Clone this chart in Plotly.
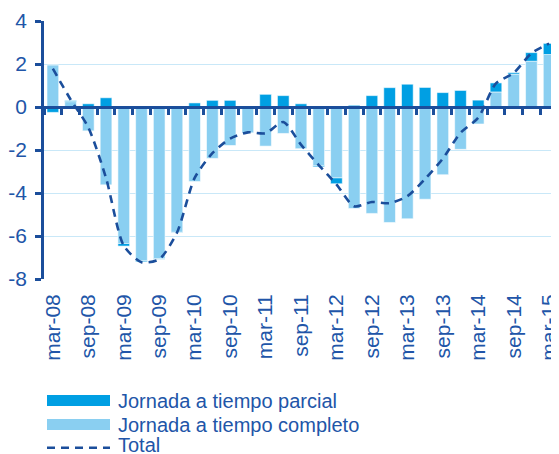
import plotly.graph_objects as go

quarters = ["mar-08", "jun-08", "sep-08", "dic-08",
            "mar-09", "jun-09", "sep-09", "dic-09",
            "mar-10", "jun-10", "sep-10", "dic-10",
            "mar-11", "jun-11", "sep-11", "dic-11",
            "mar-12", "jun-12", "sep-12", "dic-12",
            "mar-13", "jun-13", "sep-13", "dic-13",
            "mar-14", "jun-14", "sep-14", "dic-14",
            "mar-15"]

completo = [1.95, 0.25, -1.11, -3.62, -6.35, -7.15, -7.05, -5.83,
            -3.47, -2.39, -1.79, -1.20, -1.82, -1.23, -1.94, -2.72,
            -3.30, -4.72, -4.95, -5.37, -5.20, -4.29, -3.15, -1.97,
            -0.79, 0.70, 1.53, 2.13, 2.44]

parcial = [-0.25, 0.05, 0.15, 0.43, -0.12, -0.05, -0.03, -0.02,
           0.19, 0.31, 0.31, 0.02, 0.59, 0.53, 0.15, -0.06,
           -0.27, 0.08, 0.53, 0.90, 1.06, 0.91, 0.67, 0.77,
           0.32, 0.42, 0.07, 0.40, 0.52]

total = [1.78, 0.35, -0.95, -3.30, -6.45, -7.22, -7.08, -5.85,
         -3.30, -2.15, -1.47, -1.18, -1.22, -0.70, -1.75, -2.70,
         -3.60, -4.62, -4.42, -4.47, -4.15, -3.35, -2.40, -1.20,
         -0.50, 1.10, 1.58, 2.50, 2.95]

tick_labels = [q for q in quarters if q.startswith("mar") or q.startswith("sep")]
y_ticks = [4, 2, 0, -2, -4, -6, -8]
y_tick_text = ["4", "2", "0", "-2", "-4", "-6", "-8"]

legend_names = ["Jornada a tiempo parcial", "Jornada a tiempo completo", "Total"]

LIGHT = "#8ACFF1"
DARK = "#009FE3"
NAVY = "#1B4E9B"
TEXT = "#2155A8"
GRID = "#C9E8F8"
FONT = "Liberation Sans, Arial, sans-serif"

# the page body has an 8px margin, so the figure is drawn 8px smaller
OFF = 8
W, H = 559 - OFF, 454 - OFF
ML, MR, MT, MB = 44 - OFF, 1, 21 - OFF, 175
PW, PH = W - ML - MR, H - MT - MB


def px_x(px):
    return (px - OFF - ML) / PW


def px_y(py):
    return (H - MB - (py - OFF)) / PH


fig = go.Figure()
fig.add_trace(go.Bar(x=quarters, y=completo, name=legend_names[1],
                     marker=dict(color=LIGHT, line=dict(color="rgba(255,255,255,0.7)", width=0.8)),
                     showlegend=False))
fig.add_trace(go.Bar(x=quarters, y=parcial, name=legend_names[0],
                     marker=dict(color=DARK, line=dict(color="rgba(255,255,255,0.7)", width=0.8)),
                     showlegend=False))
fig.add_trace(go.Scatter(x=quarters, y=total, name=legend_names[2], mode="lines",
                         line=dict(color=NAVY, width=2.6, dash="8px,6px", shape="spline", smoothing=0.7),
                         showlegend=False))
# helper (invisible) trace for the zero-line axis with boundary ticks
fig.add_trace(go.Scatter(x=quarters, y=total, xaxis="x2", mode="none",
                         showlegend=False, hoverinfo="skip"))

y0_pos = (0 - min(y_ticks)) / (max(y_ticks) - min(y_ticks))

fig.update_layout(
    width=W, height=H,
    margin=dict(l=ML, r=MR, t=MT, b=MB, autoexpand=False),
    paper_bgcolor="white", plot_bgcolor="white",
    barmode="relative", bargap=0.34,
    font=dict(family=FONT, size=20, color=TEXT),
    showlegend=False,
    xaxis=dict(type="category", categoryarray=quarters, range=[-0.5, len(quarters) - 0.5],
               tickmode="array", tickvals=tick_labels, ticktext=tick_labels,
               tickangle=-90, ticks="", showline=False, showgrid=False, zeroline=False,
               tickfont=dict(size=21, color=TEXT), ticklabelstandoff=10, automargin=False),
    xaxis2=dict(type="category", categoryarray=quarters, range=[-0.5, len(quarters) - 0.5],
                overlaying="x", anchor="free", position=y0_pos,
                showticklabels=False, ticks="outside", tickson="boundaries",
                ticklen=6, tickwidth=2.5, tickcolor=NAVY, automargin=False,
                showline=True, linecolor=NAVY, linewidth=2.5, showgrid=False, zeroline=False),
    yaxis=dict(range=[min(y_ticks), max(y_ticks)], tickmode="array",
               tickvals=y_ticks, ticktext=y_tick_text, automargin=False,
               showgrid=True, gridcolor=GRID, gridwidth=1.2,
               zeroline=False, showline=True, linecolor=NAVY, linewidth=2.5,
               ticks="outside", ticklen=6, tickwidth=2.5, tickcolor=NAVY,
               tickfont=dict(size=21, color=TEXT), ticklabelstandoff=4),
)

# custom legend (wide swatches like the original)
sw_x0, sw_x1, txt_x = 47, 110, 116
rows = [(400.5, DARK, legend_names[0]), (424.5, LIGHT, legend_names[1])]
for cy, col, name in rows:
    fig.add_shape(type="rect", xref="paper", yref="paper",
                  x0=px_x(sw_x0), x1=px_x(sw_x1), y0=px_y(cy + 5.5), y1=px_y(cy - 5.5),
                  fillcolor=col, line=dict(width=0))
    fig.add_annotation(xref="paper", yref="paper", x=px_x(txt_x), y=px_y(cy),
                       text=name, showarrow=False, xanchor="left", yanchor="middle",
                       font=dict(size=20, color=TEXT, family=FONT))
cy = 447.7
fig.add_shape(type="line", xref="paper", yref="paper",
              x0=px_x(sw_x0), x1=px_x(sw_x1), y0=px_y(cy), y1=px_y(cy),
              line=dict(color=NAVY, width=2.6, dash="8px,6px"))
fig.add_annotation(xref="paper", yref="paper", x=px_x(txt_x), y=px_y(cy - 2.5),
                   text=legend_names[2], showarrow=False, xanchor="left", yanchor="middle",
                   font=dict(size=20, color=TEXT, family=FONT))

fig.write_html("out.html")
